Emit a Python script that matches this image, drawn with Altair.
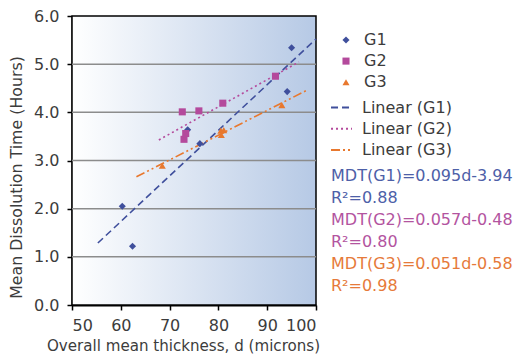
import altair as alt
import pandas as pd

# ---- data ----
groups = ["G1", "G2", "G3"]
g1_x = [60.3, 62.4, 73.7, 76.2, 94.1, 95.0]
g1_y = [2.05, 1.22, 3.64, 3.35, 4.43, 5.34]
g2_x = [72.6, 72.95, 73.3, 76.0, 80.9, 91.7]
g2_y = [4.01, 3.44, 3.56, 4.03, 4.19, 4.75]
g3_x = [68.5, 80.5, 80.6, 81.1, 93.0]
g3_y = [2.89, 3.62, 3.53, 3.63, 4.15]

trend_start = [55.3, 67.8, 63.2]
trend_end = [100.0, 96.5, 98.1]

point_colors = ["#3f4f9c", "#b44a9c", "#e8782e"]
point_shapes = ["diamond", "square", "triangle-up"]
trend_labels = ["Linear (G1)", "Linear (G2)", "Linear (G3)"]
trend_dash = [[7, 4], [2, 3], [9, 3, 2, 3, 2, 3]]

notes = ["MDT(G1)=0.095d-3.94", "R²=0.88",
         "MDT(G2)=0.057d-0.48", "R²=0.80",
         "MDT(G3)=0.051d-0.58", "R²=0.98"]
note_colors = ["#4d60a8", "#4d60a8", "#b3549f", "#b3549f", "#e67a3a", "#e67a3a"]

x_ticks = [50, 60, 70, 80, 90, 100]
y_ticks = [0, 1, 2, 3, 4, 5, 6]
grid_y = [1, 2, 3, 4, 5]
x_domain = [50, 100]
y_domain = [0, 6]

FONT = "DejaVu Sans"
TXT = "#3c3c3c"
FS = 16

rows = []
for g, xs, ys in zip(groups, [g1_x, g2_x, g3_x], [g1_y, g2_y, g3_y]):
    for a, b in zip(xs, ys):
        rows.append({"group": g, "d": a, "mdt": b})
df = pd.DataFrame(rows)

x_scale = alt.Scale(domain=x_domain, nice=False)
y_scale = alt.Scale(domain=y_domain, nice=False)

gradient = alt.LinearGradient(
    gradient="linear", x1=0, y1=0, x2=1, y2=0,
    stops=[alt.GradientStop(color="#ffffff", offset=0),
           alt.GradientStop(color="#b6c9e5", offset=1)],
)

bg = alt.Chart(pd.DataFrame({"x0": [x_domain[0]], "x1": [x_domain[1]],
                             "y0": [y_domain[0]], "y1": [y_domain[1]]})).mark_rect(
    fill=gradient, stroke="black", strokeWidth=1.5
).encode(
    x=alt.X("x0:Q", scale=x_scale,
            axis=alt.Axis(values=x_ticks, title="Overall mean thickness, d (microns)",
                          grid=False, format="d", titleFontSize=15.1, titleX=111)),
    x2="x1:Q",
    y=alt.Y("y0:Q", scale=y_scale,
            axis=alt.Axis(values=y_ticks, format=".1f", grid=False,
                          title="Mean Dissolution Time (Hours)",
                          titleFontSize=15.8, titleY=161)),
    y2="y1:Q",
)

grid = alt.Chart(pd.DataFrame({"gy": grid_y})).mark_rule(
    color="#8c8c8c", strokeWidth=1.5
).encode(y="gy:Q")

pt_legend = alt.Legend(orient="none", legendX=266, legendY=16,
                       title=None, labelFontSize=FS, labelFont=FONT,
                       labelColor=TXT, symbolSize=50, rowPadding=5.1,
                       labelOffset=10, padding=0)
points = alt.Chart(df).mark_point(filled=True, opacity=1, size=50).encode(
    x="d:Q", y="mdt:Q",
    color=alt.Color("group:N", scale=alt.Scale(domain=groups, range=point_colors),
                    legend=pt_legend),
    shape=alt.Shape("group:N", scale=alt.Scale(domain=groups, range=point_shapes),
                    legend=pt_legend),
)

ln_legend = alt.Legend(orient="none", legendX=258, legendY=80,
                       title=None, labelFontSize=FS, labelFont=FONT,
                       labelColor=TXT, symbolType="stroke",
                       symbolSize=440, symbolStrokeWidth=2,
                       rowPadding=1.2, labelOffset=9, padding=0)
line_layers = []
for i, g in enumerate(groups):
    ln = alt.Chart(df).transform_filter(
        alt.datum.group == g
    ).transform_regression(
        "d", "mdt", extent=[trend_start[i], trend_end[i]]
    ).transform_calculate(
        trend="'" + trend_labels[i] + "'"
    ).mark_line(strokeWidth=1.6).encode(
        x="d:Q", y="mdt:Q",
        color=alt.Color("trend:N", scale=alt.Scale(domain=trend_labels, range=point_colors),
                        legend=ln_legend),
        strokeDash=alt.StrokeDash("trend:N", scale=alt.Scale(domain=trend_labels, range=trend_dash),
                                  legend=ln_legend),
    )
    line_layers.append(ln)
lines = alt.layer(*line_layers)

notes_df = pd.DataFrame({"label": notes, "color": note_colors, "row": list(range(len(notes)))})
note_text = alt.Chart(notes_df).transform_calculate(
    py="159.5 + datum.row * 22"
).mark_text(align="left", baseline="middle", fontSize=FS, font=FONT, x=259).encode(
    y=alt.Y("py:Q", scale=None),
    text="label:N",
    color=alt.Color("color:N", scale=None),
)

chart = alt.layer(bg, grid, lines, points, note_text).resolve_scale(
    color="independent", shape="independent", strokeDash="independent"
).properties(
    width=244, height=289,
    autosize=alt.AutoSizeParams(type="none"),
    padding={"left": 64, "top": 8, "right": 200, "bottom": 55},
).configure_view(
    stroke=None,
).configure_axis(
    labelFont=FONT, titleFont=FONT, labelFontSize=FS, titleFontSize=FS,
    labelColor=TXT, titleColor=TXT, titleFontWeight="normal",
    domainColor="black", domainWidth=2, tickColor="black", tickSize=5, tickWidth=1.5,
).configure_axisY(
    titlePadding=9, labelPadding=8,
).configure_axisX(
    titlePadding=5, labelPadding=7,
)

chart.save("out.html", embed_options={"renderer": "svg", "actions": False})
